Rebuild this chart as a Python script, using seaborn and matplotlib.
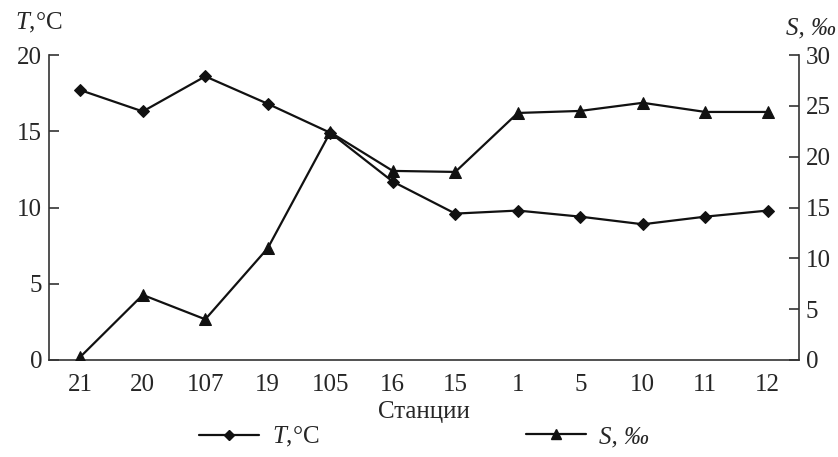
import numpy as np
import pandas as pd
import matplotlib
matplotlib.use("Agg")
import matplotlib.pyplot as plt
from matplotlib.ticker import FixedLocator, MultipleLocator
from matplotlib.lines import Line2D
import seaborn as sns

stations = ["21", "20", "107", "19", "105", "16", "15", "1", "5", "10", "11", "12"]
temperature = [17.7, 16.3, 18.6, 16.8, 14.9, 11.7, 9.6, 9.8, 9.4, 8.9, 9.4, 9.8]
salinity = [0.3, 6.4, 4.0, 11.0, 22.4, 18.6, 18.5, 24.3, 24.5, 25.3, 24.4, 24.4]

sns.set_theme(style="white")
plt.rcParams["font.family"] = ["Liberation Serif", "DejaVu Serif"]
plt.rcParams["mathtext.fontset"] = "custom"
plt.rcParams["mathtext.rm"] = "Liberation Serif"
plt.rcParams["mathtext.it"] = "Liberation Serif:italic"
plt.rcParams["mathtext.bf"] = "Liberation Serif:bold"
FS = 18

df = pd.DataFrame({"pos": np.arange(len(stations)), "station": stations,
                   "T": temperature, "S": salinity})

fig = plt.figure(figsize=(8.38, 4.57), dpi=100)
ax = fig.add_axes([0.0585, 0.2123, 0.8950, 0.6673])
ax2 = ax.twinx()

sns.lineplot(data=df, x="pos", y="T", ax=ax, color="#111111", lw=1.6,
             marker="D", markersize=6, markeredgecolor="#111111", sort=False)
sns.lineplot(data=df, x="pos", y="S", ax=ax2, color="#111111", lw=1.6,
             marker="^", markersize=8, markeredgecolor="#111111", sort=False)

ax.set_xlim(-0.5, len(stations) - 0.5)
ax.set_ylim(0, 20)
ax2.set_ylim(0, 30)
ax.set_xlabel("Станции", fontsize=FS, labelpad=4)
ax.set_ylabel("")
ax2.set_ylabel("")

ax.xaxis.set_major_locator(FixedLocator(df["pos"].tolist()))
ax.set_xticklabels(stations, fontsize=FS)
ax.xaxis.set_minor_locator(FixedLocator((df["pos"].iloc[:-1] + 0.5).tolist()))
ax.tick_params(axis="x", which="major", length=0, pad=10)
ax.tick_params(axis="x", which="minor", direction="in", length=8, width=1.2, color="#333333")
ax.yaxis.set_major_locator(MultipleLocator(5))
ax2.yaxis.set_major_locator(MultipleLocator(5))
ax.tick_params(axis="y", direction="in", length=7, width=1.2, color="#333333", labelsize=FS, pad=5)
ax2.tick_params(axis="y", direction="in", length=7, width=1.2, color="#333333", labelsize=FS, pad=5)

for a in (ax, ax2):
    a.spines["top"].set_visible(False)
    for s in ("left", "right", "bottom"):
        a.spines[s].set_color("#333333")
        a.spines[s].set_linewidth(1.2)
    a.grid(False)
ax.spines["right"].set_visible(False)
ax2.spines["bottom"].set_visible(False)
ax2.spines["left"].set_visible(False)

fig.text(0.018, 0.950, "$T$,°C", fontsize=FS, ha="left", va="center")
fig.text(0.998, 0.938, "S, ‰", fontsize=FS, ha="right", va="center", fontstyle="italic")

h1 = Line2D([], [], color="#111111", lw=1.6, marker="D", markersize=5)
h2 = Line2D([], [], color="#111111", lw=1.6, marker="^", markersize=7)
leg1 = fig.legend([h1], ["$T$,°C"], loc="center left", bbox_to_anchor=(0.238, 0.044),
                  frameon=False, fontsize=FS, handlelength=2.4, handletextpad=0.5,
                  borderaxespad=0, borderpad=0)
leg2 = fig.legend([h2], ["S, ‰"], loc="center left", bbox_to_anchor=(0.628, 0.044),
                  frameon=False, handlelength=2.4, handletextpad=0.5,
                  prop={"size": FS, "style": "italic"},
                  borderaxespad=0, borderpad=0)

fig.savefig("out.png", dpi=100, facecolor="white")
